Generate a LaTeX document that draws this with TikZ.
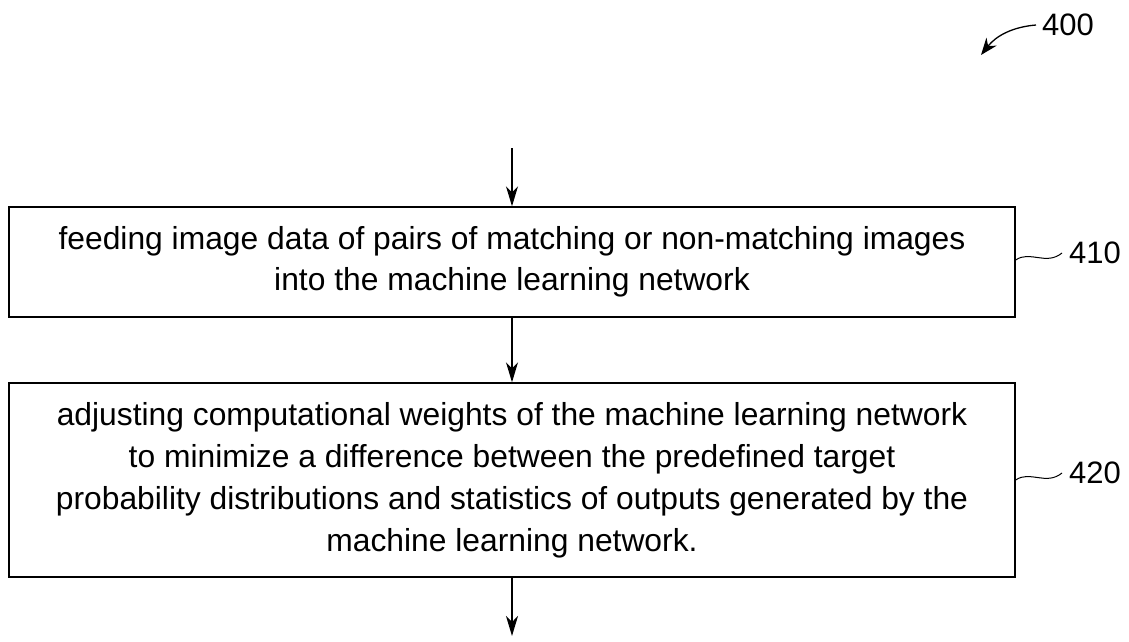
\documentclass[tikz,border=0pt]{standalone}
\usepackage{fontspec}
\setmainfont{Liberation Sans}
\usetikzlibrary{arrows.meta}
\begin{document}
\begin{tikzpicture}[x=1pt,y=1pt,
  stepbox/.style={draw,line width=1.4pt,align=center,inner sep=0pt,
    font=\fontsize{31.8}{41}\selectfont},
  flow/.style={line width=1.4pt,-{Stealth[length=20pt,width=12pt,inset=6pt]}},
  lead/.style={line width=1pt},
  reflabel/.style={font=\fontsize{31}{36}\selectfont,inner sep=0pt}]
\useasboundingbox (0,0) rectangle (1129,-642);
\node[stepbox,minimum width=1006pt,minimum height=110pt] (b1) at (512,-262)
  {feeding image data of pairs of matching or non-matching images\\into the machine learning network};
\node[stepbox,minimum width=1006pt,minimum height=194pt,
  font=\fontsize{31.8}{42}\selectfont] (b2) at (512,-480)
  {adjusting computational weights of the machine learning network\\to minimize a difference between the predefined target\\probability distributions and statistics of outputs generated by the\\machine learning network.};
\coordinate (top) at (512,-148);
\coordinate (bot) at (512,-636);
\draw[flow] (top) -- (b1.north);
\draw[flow] (b1.south) -- (b2.north);
\draw[flow] (b2.south) -- (bot);
\node[reflabel,anchor=west] (l410) at (1069,-253) {410};
\node[reflabel,anchor=west] (l420) at (1069,-473) {420};
\node[reflabel,anchor=west] (l400) at (1042,-25) {400};
\draw[lead] (b1.east |- 0,-260) .. controls (1030,-250) and (1046,-266) .. ([xshift=-7pt]l410.west);
\draw[lead] (b2.east |- 0,-480) .. controls (1030,-470) and (1046,-486) .. ([xshift=-7pt]l420.west);
\coordinate (t400) at (981,-55);
\draw[line width=1.3pt,-{Stealth[length=17pt,width=13pt]}] ([xshift=-6pt]l400.west) .. controls (1012,-27) and (996,-36) .. (t400);
\end{tikzpicture}
\end{document}
